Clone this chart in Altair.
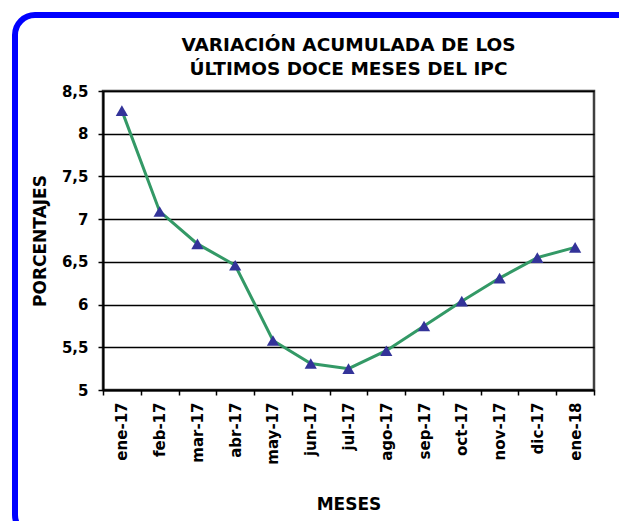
import altair as alt
import pandas as pd

months = ["ene-17", "feb-17", "mar-17", "abr-17", "may-17", "jun-17", "jul-17",
          "ago-17", "sep-17", "oct-17", "nov-17", "dic-17", "ene-18"]
values = [8.27, 7.09, 6.71, 6.46, 5.58, 5.31, 5.25, 5.46, 5.75, 6.04, 6.31, 6.55, 6.67]
y_ticks = [5, 5.5, 6, 6.5, 7, 7.5, 8, 8.5]

df = pd.DataFrame({"mes": months, "valor": values})

FONT = "DejaVu Sans"

x_enc = alt.X(
    "mes:N", sort=months,
    scale=alt.Scale(type="band", paddingInner=0, paddingOuter=0),
    axis=alt.Axis(title="MESES", labelAngle=-90, tickBand="extent", grid=False,
                  labelPadding=7, titlePadding=32),
)
y_enc = alt.Y(
    "valor:Q",
    scale=alt.Scale(domain=[5, 8.5], nice=False, zero=False),
    axis=alt.Axis(title="PORCENTAJES", values=y_ticks, grid=True,
                  labelExpr="replace(toString(datum.value), '.', ',')",
                  labelPadding=10, titlePadding=12),
)

base = alt.Chart(df).encode(x=x_enc, y=y_enc)

line = base.mark_line(color="#339966", strokeWidth=3)
pts = base.mark_point(shape="triangle-up", filled=True, color="#333399",
                      size=150, opacity=1)

border = alt.Chart(pd.DataFrame({"b": [0]})).mark_rect(
    fillOpacity=0, stroke="#0000FF", strokeWidth=6, cornerRadius=20
).encode(
    x=alt.value(-88), x2=alt.value(537), y=alt.value(-76), y2=alt.value(444)
)

chart = alt.layer(border, line, pts).properties(
    width=491, height=299,
    title=alt.TitleParams(
        text=["VARIACIÓN ACUMULADA DE LOS", "ÚLTIMOS DOCE MESES DEL IPC"],
        font=FONT, fontSize=18.5, fontWeight="bold", color="black",
        anchor="middle", frame="group", offset=14, lineHeight=24, dy=80,
    ),
    autosize=alt.AutoSizeParams(type="none"),
    padding={"left": 95, "top": 83, "right": 25, "bottom": 131},
).configure_axis(
    labelFont=FONT, labelFontSize=15, labelFontWeight="bold", labelColor="black",
    titleFont=FONT, titleFontSize=17, titleFontWeight="bold", titleColor="black",
    domainColor="black", domainWidth=2, tickColor="black", tickSize=5, tickWidth=1.5,
    gridColor="black", gridWidth=1.5, gridOpacity=1,
).configure_view(
    stroke="#404040", strokeWidth=2.5
)

chart.save("out.html", embed_options={"renderer": "svg", "actions": False})
